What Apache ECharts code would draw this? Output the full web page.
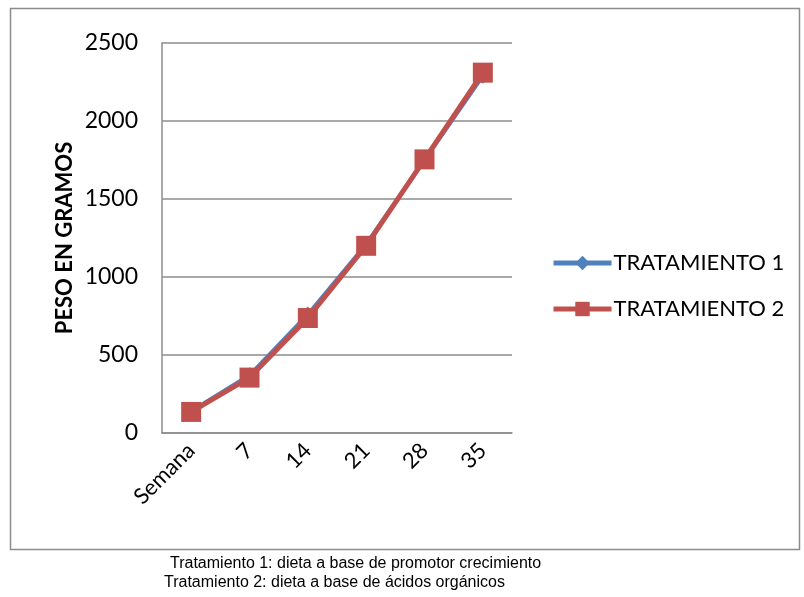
<!DOCTYPE html>
<html>
<head>
<meta charset="utf-8">
<script src="https://cdn.jsdelivr.net/npm/echarts@6/dist/echarts.min.js"></script>
<style>
  body { margin: 0; background: #fff; }
  #chart { width: 804px; height: 597px; }
</style>
</head>
<body>
<div id="chart"></div>
<script>
// datos
var semanas = ['Semana', '7', '14', '21', '28', '35'];
var tratamiento1 = [140, 370, 760, 1210, 1750, 2290];
var tratamiento2 = [135, 355, 737, 1200, 1754, 2310];
var yTicks = [0, 500, 1000, 1500, 2000, 2500];

var myChart = echarts.init(document.getElementById('chart'));

var option = {
    backgroundColor: '#fff',
    animation: false,
    grid: {
        left: 162,
        right: 292,
        top: 43,
        bottom: 164
    },
    legend: {
        orient: 'vertical',
        left: 546,
        top: 247,
        itemWidth: 58,
        itemHeight: 18,
        itemGap: 24,
        lineStyle: { width: 5 },
        textStyle: { fontFamily: 'Lato', fontSize: 22, color: '#000', padding: [0, 0, 0, -3] },
        data: ['TRATAMIENTO 1', 'TRATAMIENTO 2']
    },
    xAxis: {
        type: 'category',
        data: semanas,
        boundaryGap: true,
        axisLine: { lineStyle: { color: '#8c8c8c', width: 1.5 } },
        axisTick: { show: false },
        axisLabel: {
            rotate: 45,
            margin: 14,
            fontFamily: 'Lato',
            fontSize: 22,
            color: '#000'
        }
    },
    yAxis: {
        type: 'value',
        min: yTicks[0],
        max: yTicks[yTicks.length - 1],
        interval: 500,
        name: 'PESO EN GRAMOS',
        nameLocation: 'middle',
        nameGap: 86,
        nameRotate: 90,
        nameTextStyle: { fontFamily: 'Lato', fontWeight: 'bold', fontSize: 22, color: '#000' },
        axisLine: { show: true, lineStyle: { color: '#8c8c8c', width: 1.5 } },
        axisTick: { show: false },
        splitLine: { lineStyle: { color: '#8c8c8c', width: 1.5 } },
        axisLabel: {
            fontFamily: 'Lato', fontSize: 23, color: '#000', margin: 24,
            formatter: function (v) { return String(v); }
        }
    },
    series: [
        {
            name: 'TRATAMIENTO 1',
            type: 'line',
            data: tratamiento1,
            symbol: 'diamond',
            symbolSize: 16,
            itemStyle: { color: '#4f81bd' },
            lineStyle: { color: '#4f81bd', width: 4 }
        },
        {
            name: 'TRATAMIENTO 2',
            type: 'line',
            data: tratamiento2,
            symbol: 'rect',
            symbolSize: 20,
            itemStyle: { color: '#c0504d' },
            lineStyle: { color: '#c0504d', width: 5 }
        }
    ],
    graphic: [
        {
            type: 'rect',
            shape: { x: 10.5, y: 8.5, width: 789, height: 541 },
            style: { fill: 'none', stroke: '#8c8c8c', lineWidth: 1.5 },
            z: -1
        },
        {
            type: 'text',
            left: 170,
            top: 556,
            style: { text: 'Tratamiento 1: dieta a base de promotor crecimiento', fontFamily: 'Liberation Sans', fontSize: 16, fill: '#000' }
        },
        {
            type: 'text',
            left: 164,
            top: 575,
            style: { text: 'Tratamiento 2: dieta a base de ácidos orgánicos', fontFamily: 'Liberation Sans', fontSize: 16, fill: '#000' }
        }
    ]
};

myChart.setOption(option);
</script>
</body>
</html>
